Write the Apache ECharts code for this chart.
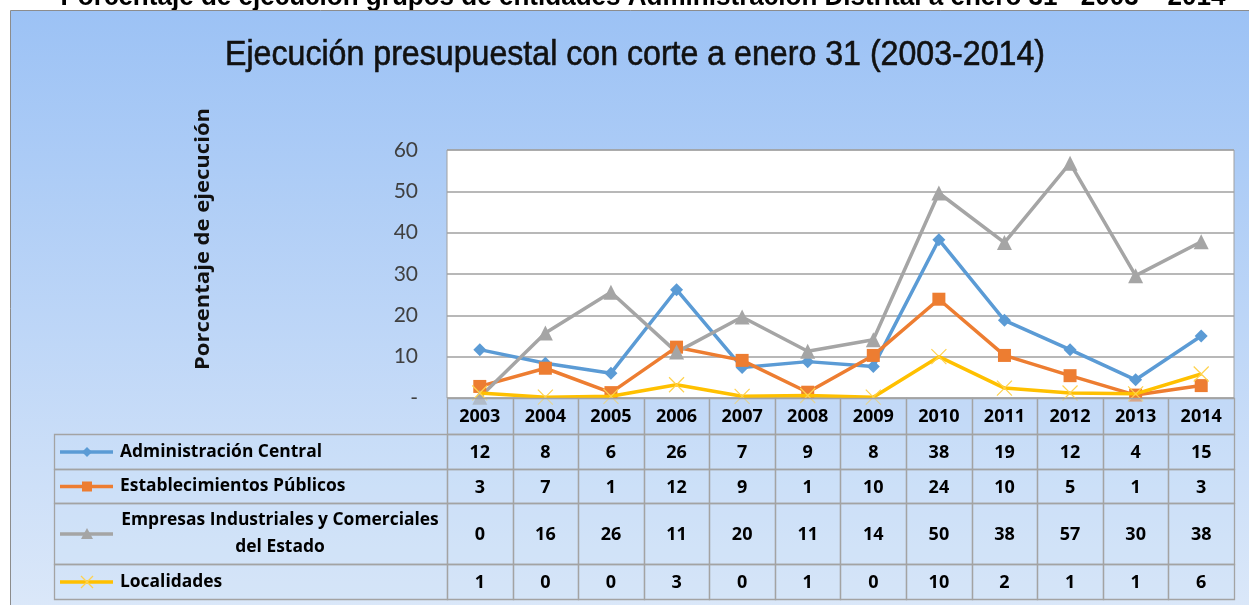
<!DOCTYPE html>
<html>
<head>
<meta charset="utf-8">
<script src="https://cdn.jsdelivr.net/npm/echarts@6/dist/echarts.min.js"></script>
<style>
  html, body { margin: 0; padding: 0; background: #ffffff; }
  #chart { width: 1249px; height: 605px; }
</style>
</head>
<body>
<div id="chart"></div>
<script>
// ---------- DATA ----------
const years = ['2003', '2004', '2005', '2006', '2007', '2008', '2009', '2010', '2011', '2012', '2013', '2014'];
const seriesNames = ['Administración Central', 'Establecimientos Públicos', 'Empresas Industriales y Comerciales\ndel Estado', 'Localidades'];
const adminCentral     = [11.7, 8.4, 6.0, 26.2, 7.4, 8.8, 7.6, 38.3, 18.8, 11.7, 4.4, 15.0];
const establecimientos = [2.8, 7.2, 1.3, 12.3, 9.1, 1.4, 10.3, 23.9, 10.3, 5.4, 0.7, 3.0];
const empresas         = [0.2, 15.7, 25.6, 11.1, 19.6, 11.3, 14.1, 49.6, 37.6, 56.8, 29.6, 37.8];
const localidades      = [1.2, 0.2, 0.4, 3.2, 0.4, 0.6, 0.2, 10.0, 2.4, 1.2, 1.0, 5.8];
const yTickZeroLabel = '-';
const mainTitle = 'Ejecución presupuestal con corte a enero 31 (2003-2014)';
const pageTitle = 'Porcentaje de ejecución grupos de entidades Administración Distrital a enero 31 - 2003 – 2014';
const yAxisTitle = 'Porcentaje de ejecución';

// ---------- STYLE ----------
const colors = ['#5B9BD5', '#ED7D31', '#A5A5A5', '#FFC000'];
const symbols = ['diamond', 'rect', 'triangle', 'path://M0,0L10,10M10,0L0,10'];
const symbolSizes = [13, 13, 15, 15];
const FONT = 'Lato, "Open Sans", sans-serif';
const TFONT = '"Open Sans", Lato, sans-serif';
const ARIAL = '"Liberation Sans", Arial, sans-serif';
const gridColor = '#A0A0A0';

const allData = [adminCentral, establecimientos, empresas, localidades];

const measureCtx = document.createElement('canvas').getContext('2d');
function fitScale(text, font, targetWidth) {
  measureCtx.font = font;
  return targetWidth / measureCtx.measureText(text).width;
}

const chart = echarts.init(document.getElementById('chart'), null, { renderer: 'canvas' });

const series = allData.map((d, i) => ({
  name: seriesNames[i],
  type: 'line',
  data: d,
  symbol: symbols[i],
  symbolSize: symbolSizes[i],
  showAllSymbol: true,
  lineStyle: { color: colors[i], width: 3.5 },
  itemStyle: i === 3
    ? { color: colors[i], borderColor: '#FFD24D', borderWidth: 1.2 }
    : { color: colors[i], borderWidth: 0 },
  z: 3 + (i === 3 ? 1 : 0),
  animation: false
}));

chart.setOption({
  animation: false,
  textStyle: { fontFamily: FONT },
  grid: {
    left: 447, right: 15, top: 150, bottom: 207,
    show: true, backgroundColor: '#ffffff', borderColor: gridColor, borderWidth: 1,
    containLabel: false
  },
  xAxis: {
    type: 'category',
    data: years,
    boundaryGap: true,
    axisLine: { show: false },
    axisTick: { show: false },
    axisLabel: { show: false }
  },
  yAxis: {
    type: 'value',
    min: 0, max: 60, interval: 10,
    axisLine: { show: false },
    axisTick: { show: false },
    splitLine: { show: true, lineStyle: { color: gridColor, width: 1.5 } },
    axisLabel: {
      margin: 29,
      fontSize: 21,
      color: '#404040',
      fontFamily: FONT,
      formatter: v => (v === 0 ? yTickZeroLabel : String(v))
    }
  },
  series: series
});

// ---------- BACKGROUND, TITLES & DATA TABLE (positions from the axes) ----------
function buildGraphics() {
  const els = [];
  const capFont = 'bold 27px ' + ARIAL;
  const titleFont = '35px ' + ARIAL;
  const yTitleFont = 'bold 20px ' + TFONT;
  const capScale = fitScale(pageTitle, capFont, 1165);
  const titleScale = fitScale(mainTitle, titleFont, 820);
  const yTitleScale = fitScale(yAxisTitle, yTitleFont, 262);
  els.push({
    type: 'text', z: -30,
    x: 643, y: 11, scaleX: capScale,
    style: { text: pageTitle, font: capFont, fill: '#000', textAlign: 'center', textVerticalAlign: 'bottom' }
  });
  els.push({
    type: 'rect', z: -20,
    shape: { x: 10.5, y: 10.5, width: 1260, height: 620 },
    style: {
      fill: new echarts.graphic.LinearGradient(0, 0, 0, 1, [
        { offset: 0, color: '#9CC2F5' },
        { offset: 1, color: '#DDE9F9' }
      ]),
      stroke: '#8C8C8C', lineWidth: 1
    }
  });
  els.push({
    type: 'text', z: 10,
    x: 635, y: 55, scaleX: titleScale,
    style: { text: mainTitle, font: titleFont, fill: '#111', stroke: '#111', lineWidth: 0.6, textAlign: 'center', textVerticalAlign: 'middle' }
  });
  els.push({
    type: 'text', z: 10,
    x: 203, y: 239, rotation: Math.PI / 2, scaleX: yTitleScale,
    style: { text: yAxisTitle, font: yTitleFont, fill: '#111', textAlign: 'center', textVerticalAlign: 'middle' }
  });

  const c0 = chart.convertToPixel({ xAxisIndex: 0 }, 0);
  const c1 = chart.convertToPixel({ xAxisIndex: 0 }, 1);
  const bw = c1 - c0;
  const tableLeft = c0 - bw / 2;
  const yBase = chart.convertToPixel({ yAxisIndex: 0 }, 0);
  const labelLeft = 54;
  const headerH = 36;
  const rowHeights = [35, 34, 61, 35];
  const cellStroke = '#A3A3A3';
  const numFont = 'bold 18px ' + TFONT;
  const labelFont = 'bold 17px ' + TFONT;
  const labelScale = fitScale(seriesNames[0], labelFont, 202);

  years.forEach((yr, i) => {
    const x = Math.round(tableLeft + i * bw) + 0.5;
    const xn = Math.round(tableLeft + (i + 1) * bw) + 0.5;
    els.push({
      type: 'rect', z: 5,
      shape: { x: x, y: Math.round(yBase) + 0.5, width: xn - x, height: headerH },
      style: { fill: 'rgba(190,214,246,0.45)', stroke: cellStroke, lineWidth: 1.3 }
    });
    els.push({
      type: 'text', z: 6,
      x: c0 + i * bw, y: yBase + headerH / 2 + 1,
      style: { text: yr, font: numFont, fill: '#000', textAlign: 'center', textVerticalAlign: 'middle' }
    });
  });

  let y = Math.round(yBase + headerH) + 0.5;
  allData.forEach((d, r) => {
    const h = rowHeights[r];
    const cy = y + h / 2;
    els.push({
      type: 'rect', z: 5,
      shape: { x: labelLeft + 0.5, y: y, width: Math.round(tableLeft) - labelLeft, height: h },
      style: { fill: 'rgba(200,222,248,0.25)', stroke: cellStroke, lineWidth: 1.3 }
    });
    els.push({
      type: 'line', z: 6,
      shape: { x1: 60, y1: cy, x2: 113, y2: cy },
      style: { stroke: colors[r], lineWidth: 3.5 }
    });
    const mx = 87;
    if (r === 0) {
      els.push({ type: 'polygon', z: 7, shape: { points: [[mx, cy - 5], [mx + 5, cy], [mx, cy + 5], [mx - 5, cy]] }, style: { fill: colors[r] } });
    } else if (r === 1) {
      els.push({ type: 'rect', z: 7, shape: { x: mx - 5, y: cy - 5, width: 10, height: 10 }, style: { fill: colors[r] } });
    } else if (r === 2) {
      els.push({ type: 'polygon', z: 7, shape: { points: [[mx, cy - 6], [mx + 6, cy + 5], [mx - 6, cy + 5]] }, style: { fill: colors[r] } });
    } else {
      els.push({ type: 'line', z: 7, shape: { x1: mx - 6, y1: cy - 6, x2: mx + 6, y2: cy + 6 }, style: { stroke: '#FFD24D', lineWidth: 1.2 } });
      els.push({ type: 'line', z: 7, shape: { x1: mx - 6, y1: cy + 6, x2: mx + 6, y2: cy - 6 }, style: { stroke: '#FFD24D', lineWidth: 1.2 } });
    }
    if (seriesNames[r].indexOf('\n') >= 0) {
      els.push({
        type: 'text', z: 6, x: 280, y: cy, scaleX: labelScale,
        style: { text: seriesNames[r], font: labelFont, fill: '#000', textAlign: 'center', textVerticalAlign: 'middle', lineHeight: 27 }
      });
    } else {
      els.push({
        type: 'text', z: 6, x: 120, y: cy, scaleX: labelScale,
        style: { text: seriesNames[r], font: labelFont, fill: '#000', textAlign: 'left', textVerticalAlign: 'middle' }
      });
    }
    d.forEach((v, i) => {
      const x = Math.round(tableLeft + i * bw) + 0.5;
      const xn = Math.round(tableLeft + (i + 1) * bw) + 0.5;
      els.push({
        type: 'rect', z: 5,
        shape: { x: x, y: y, width: xn - x, height: h },
        style: { fill: 'rgba(200,222,248,0.25)', stroke: cellStroke, lineWidth: 1.3 }
      });
      els.push({
        type: 'text', z: 6,
        x: c0 + i * bw, y: cy + 1,
        style: { text: String(Math.round(v)), font: numFont, fill: '#000', textAlign: 'center', textVerticalAlign: 'middle' }
      });
    });
    y += h;
  });

  chart.setOption({ graphic: { elements: els } });
}
buildGraphics();
</script>
</body>
</html>
